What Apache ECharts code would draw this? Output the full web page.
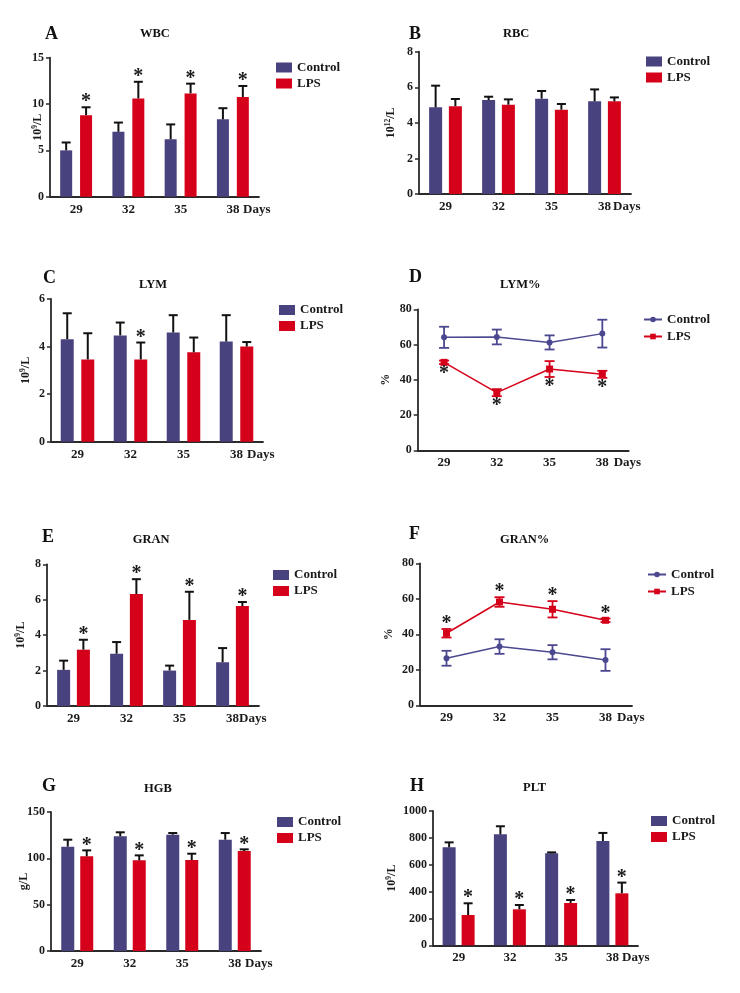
<!DOCTYPE html>
<html>
<head>
<meta charset="utf-8">
<script src="https://cdn.jsdelivr.net/npm/echarts@6/dist/echarts.min.js"></script>
<style>
html,body{margin:0;padding:0;background:#fff;}
#c{width:740px;height:993px;}
</style>
</head>
<body>
<div id="c"></div>
<script>
// ---------- DATA ----------
const days = ['29', '32', '35', '38'];
const seriesNames = ['Control', 'LPS'];

const wbcControl = [5.0, 7.0, 6.2, 8.35];
const wbcControlErr = [0.85, 1.0, 1.6, 1.2];
const wbcLPS = [8.8, 10.6, 11.15, 10.75];
const wbcLPSErr = [0.85, 1.8, 1.05, 1.2];
const wbcSig = [1, 1, 1, 1];

const rbcControl = [4.87, 5.28, 5.36, 5.21];
const rbcControlErr = [1.22, 0.19, 0.43, 0.67];
const rbcLPS = [4.94, 5.02, 4.74, 5.21];
const rbcLPSErr = [0.40, 0.30, 0.32, 0.22];
const rbcSig = [0, 0, 0, 0];

const lymControl = [4.31, 4.47, 4.59, 4.21];
const lymControlErr = [1.09, 0.54, 0.73, 1.11];
const lymLPS = [3.46, 3.46, 3.76, 4.0];
const lymLPSErr = [1.10, 0.71, 0.62, 0.19];
const lymSig = [0, 1, 0, 0];

const lymPctControl = [64.1, 64.3, 61.2, 66.2];
const lymPctControlErr = [6.0, 4.2, 4.0, 7.9];
const lymPctLPS = [49.9, 32.7, 46.1, 43.1];
const lymPctLPSErr = [1.0, 2.0, 4.5, 2.0];
const lymPctSig = [1, 1, 1, 1];

const granControl = [2.04, 2.95, 2.0, 2.47];
const granControlErr = [0.52, 0.66, 0.28, 0.80];
const granLPS = [3.18, 6.32, 4.86, 5.64];
const granLPSErr = [0.56, 0.84, 1.59, 0.23];
const granSig = [1, 1, 1, 1];

const granPctControl = [26.5, 33.1, 29.9, 25.5];
const granPctControlErr = [4.2, 4.1, 4.0, 6.1];
const granPctLPS = [40.6, 58.2, 54.1, 47.9];
const granPctLPSErr = [2.4, 2.7, 4.6, 1.0];
const granPctSig = [1, 1, 1, 1];

const hgbControl = [112.6, 123.7, 125.5, 120.1];
const hgbControlErr = [7.5, 4.4, 1.8, 7.2];
const hgbLPS = [102.2, 97.8, 98.2, 107.9];
const hgbLPSErr = [6.4, 5.4, 6.8, 1.8];
const hgbSig = [1, 1, 1, 1];

const pltControl = [729.5, 826.3, 684.9, 776.7];
const pltControlErr = [37, 60, 7, 60];
const pltLPS = [225.8, 268, 315.1, 387];
const pltLPSErr = [87, 32, 22, 80];
const pltSig = [1, 1, 1, 1];

// ---------- PANELS (layout/style) ----------
const FONT = '"Liberation Serif", "Times New Roman", serif';
const C_CTRL = '#48427f';
const C_LPS = '#d5011a';
const C_LINE_CTRL = '#4b4890';
const C_AX = '#2a2a2a';

const panels = [
  {letter:'A', title:'WBC', kind:'bar', ctrl:wbcControl, ctrlErr:wbcControlErr, lps:wbcLPS, lpsErr:wbcLPSErr, sig:wbcSig,
   yMax:15, yInt:5, yName:['10','9','/L'], yGap:5,
   grid:{left:50, top:57.7, width:209, height:139}, daysGap:-16,
   letterPos:[45,25], titlePos:[140,27.5], legendPos:[276,61], bw:12, bg:'66%'},
  {letter:'B', title:'RBC', kind:'bar', ctrl:rbcControl, ctrlErr:rbcControlErr, lps:rbcLPS, lpsErr:rbcLPSErr, sig:rbcSig,
   yMax:8, yInt:2, yName:['10','12','/L'], yGap:21,
   grid:{left:419, top:51.7, width:212, height:142.3}, daysGap:-18,
   letterPos:[409,25], titlePos:[503,27.5], legendPos:[646,55], bw:13, bg:'52%'},
  {letter:'C', title:'LYM', kind:'bar', ctrl:lymControl, ctrlErr:lymControlErr, lps:lymLPS, lpsErr:lymLPSErr, sig:lymSig,
   yMax:6, yInt:2, yName:['10','9','/L'], yGap:18,
   grid:{left:51, top:299, width:212, height:142.7}, daysGap:-16,
   letterPos:[43,269.5], titlePos:[139,278], legendPos:[279,303.5], bw:13, bg:'58%'},
  {letter:'D', title:'LYM%', kind:'line', ctrl:lymPctControl, ctrlErr:lymPctControlErr, lps:lymPctLPS, lpsErr:lymPctLPSErr, sig:lymPctSig,
   sigBelow:true, yMax:80, yInt:20, yName:['%'], yGap:25,
   grid:{left:417.7, top:309.3, width:211, height:141}, daysGap:-15,
   letterPos:[409,268.5], titlePos:[500,278.5], legendPos:[643,313]},
  {letter:'E', title:'GRAN', kind:'bar', ctrl:granControl, ctrlErr:granControlErr, lps:granLPS, lpsErr:granLPSErr, sig:granSig,
   yMax:8, yInt:2, yName:['10','9','/L'], yGap:19,
   grid:{left:47, top:564.3, width:212, height:141.7}, daysGap:-20,
   letterPos:[42,528.5], titlePos:[132.7,533.5], legendPos:[273,568.5], bw:13, bg:'52%'},
  {letter:'F', title:'GRAN%', kind:'line', ctrl:granPctControl, ctrlErr:granPctControlErr, lps:granPctLPS, lpsErr:granPctLPSErr, sig:granPctSig,
   sigBelow:false, yMax:80, yInt:20, yName:['%'], yGap:24,
   grid:{left:420, top:563.3, width:212, height:142}, daysGap:-15,
   letterPos:[409,525], titlePos:[500,533.5], legendPos:[647,568]},
  {letter:'G', title:'HGB', kind:'bar', ctrl:hgbControl, ctrlErr:hgbControlErr, lps:hgbLPS, lpsErr:hgbLPSErr, sig:hgbSig,
   yMax:150, yInt:50, yName:['g/L'], yGap:20,
   grid:{left:51, top:812, width:210, height:139}, daysGap:-16,
   letterPos:[42,777.5], titlePos:[144,782], legendPos:[277,815.5], bw:13, bg:'46%'},
  {letter:'H', title:'PLT', kind:'bar', ctrl:pltControl, ctrlErr:pltControlErr, lps:pltLPS, lpsErr:pltLPSErr, sig:pltSig,
   yMax:1000, yInt:200, yName:['10','9','/L'], yGap:34,
   grid:{left:433, top:811, width:205, height:134.3}, daysGap:-16,
   letterPos:[410,777.5], titlePos:[523,781.5], legendPos:[651,814.5], bw:13, bg:'46%'}
];

const bold = {fontFamily: FONT, fontWeight: 'bold', color: '#1a1a1a'};

function yNameText(parts) {
  if (parts.length === 1) return '{b|' + parts[0] + '}';
  return '{b|' + parts[0] + '}{s|' + parts[1] + '}{b|' + parts[2] + '}';
}

function errSeries(idx, vals, errs, sig, dx, color, isBar, sigBelow, lw) {
  return {
    type: 'custom', xAxisIndex: idx, yAxisIndex: idx, z: 5, silent: true,
    name: 'err' + idx + color,
    data: vals.map((v, i) => [i, v, errs[i], sig ? sig[i] : 0]),
    renderItem: function (params, api) {
      const i = api.value(0), v = api.value(1), e = api.value(2), s = api.value(3);
      const p = api.coord([i, v]);
      const hi = api.coord([i, v + e]);
      const lo = api.coord([i, v - e]);
      const x = p[0] + dx;
      const cap = isBar ? 4.5 : 5;
      const st = {stroke: color, lineWidth: lw};
      const ch = [
        {type: 'line', shape: {x1: x, y1: isBar ? p[1] : lo[1], x2: x, y2: hi[1]}, style: st},
        {type: 'line', shape: {x1: x - cap, y1: hi[1], x2: x + cap, y2: hi[1]}, style: st}
      ];
      if (!isBar) ch.push({type: 'line', shape: {x1: x - cap, y1: lo[1], x2: x + cap, y2: lo[1]}, style: st});
      if (s) {
        const yy = sigBelow ? lo[1] + 10 : hi[1] - 5;
        ch.push({type: 'text', style: {text: '*', x: x, y: yy, align: 'center', verticalAlign: 'middle',
          font: 'bold 20px ' + FONT, fill: '#1a1a1a'}});
      }
      return {type: 'group', children: ch};
    }
  };
}

const option = {
  backgroundColor: '#ffffff',
  animation: false,
  title: [], grid: [], xAxis: [], yAxis: [], legend: [], series: []
};

panels.forEach((P, k) => {
  option.title.push({text: P.letter, left: P.letterPos[0], top: P.letterPos[1], padding: 0,
    textStyle: Object.assign({}, bold, {fontSize: 18, color: '#111'})});
  option.title.push({text: P.title, left: P.titlePos[0], top: P.titlePos[1], padding: 0,
    textStyle: Object.assign({}, bold, {fontSize: 12.5, color: '#111'})});
  option.grid.push(Object.assign({containLabel: false}, P.grid));
  option.xAxis.push({
    type: 'category', gridIndex: k, data: days, boundaryGap: true,
    axisLine: {lineStyle: {color: C_AX, width: 1.8}},
    axisTick: {alignWithLabel: true, length: 4, lineStyle: {color: C_AX, width: 1.5}},
    axisLabel: Object.assign({}, bold, {fontSize: 13, margin: 6}),
    name: 'Days', nameLocation: 'end', nameGap: P.daysGap, nameMoveOverlap: false,
    nameTextStyle: Object.assign({}, bold, {fontSize: 13, align: 'left', verticalAlign: 'top', padding: [6, 0, 0, 0]})
  });
  option.yAxis.push({
    type: 'value', gridIndex: k, min: 0, max: P.yMax, interval: P.yInt,
    splitLine: {show: false},
    axisLine: {show: true, lineStyle: {color: C_AX, width: 1.8}},
    axisTick: {show: true, length: 4, lineStyle: {color: C_AX, width: 1.5}},
    axisLabel: Object.assign({}, bold, {fontSize: 12, margin: 6, formatter: v => String(v)}),
    name: yNameText(P.yName), nameLocation: 'middle', nameGap: P.yGap, nameMoveOverlap: false,
    nameTextStyle: {rich: {
      b: Object.assign({}, bold, {fontSize: 12, lineHeight: 14}),
      s: Object.assign({}, bold, {fontSize: 7.5, lineHeight: 14, verticalAlign: 'top', padding: [0, 0, 5, 0]})
    }}
  });
  const isBar = P.kind === 'bar';
  if (isBar) {
    const gapFrac = parseFloat(P.bg) / 100;
    const dx = P.bw * (1 + gapFrac) / 2;
    option.series.push({type: 'bar', name: 'Control', xAxisIndex: k, yAxisIndex: k, data: P.ctrl,
      barWidth: P.bw, barGap: P.bg, itemStyle: {color: C_CTRL}});
    option.series.push({type: 'bar', name: 'LPS', xAxisIndex: k, yAxisIndex: k, data: P.lps,
      barWidth: P.bw, barGap: P.bg, itemStyle: {color: C_LPS}});
    option.series.push(errSeries(k, P.ctrl, P.ctrlErr, null, -dx, '#111', true, false, 2));
    option.series.push(errSeries(k, P.lps, P.lpsErr, P.sig, dx, '#111', true, false, 2));
    option.legend.push({left: P.legendPos[0], top: P.legendPos[1], orient: 'vertical', padding: 0,
      itemWidth: 16, itemHeight: 10, itemGap: 3, selectedMode: false,
      data: [{name: 'Control', icon: 'rect'}, {name: 'LPS', icon: 'rect'}],
      textStyle: Object.assign({}, bold, {fontSize: 13})});
  } else {
    // line series use a trailing space in their names so their legends pick up line icons
    option.series.push({type: 'line', name: 'Control ', xAxisIndex: k, yAxisIndex: k, data: P.ctrl,
      symbol: 'circle', symbolSize: 6, lineStyle: {color: C_LINE_CTRL, width: 1.5},
      itemStyle: {color: C_LINE_CTRL}});
    option.series.push({type: 'line', name: 'LPS ', xAxisIndex: k, yAxisIndex: k, data: P.lps,
      symbol: 'rect', symbolSize: 7, lineStyle: {color: C_LPS, width: 1.5},
      itemStyle: {color: C_LPS}});
    option.series.push(errSeries(k, P.ctrl, P.ctrlErr, null, 0, C_LINE_CTRL, false, false, 1.8));
    option.series.push(errSeries(k, P.lps, P.lpsErr, P.sig, 0, C_LPS, false, P.sigBelow, 1.8));
    option.legend.push({left: P.legendPos[0], top: P.legendPos[1], orient: 'vertical', padding: 0,
      itemWidth: 18, itemHeight: 7, itemGap: 4, selectedMode: false,
      data: ['Control ', 'LPS '], formatter: n => n.trim(),
      textStyle: Object.assign({}, bold, {fontSize: 13})});
  }
});

const chart = echarts.init(document.getElementById('c'), null, {renderer: 'canvas', width: 740, height: 993});
chart.setOption(option);
</script>
</body>
</html>
